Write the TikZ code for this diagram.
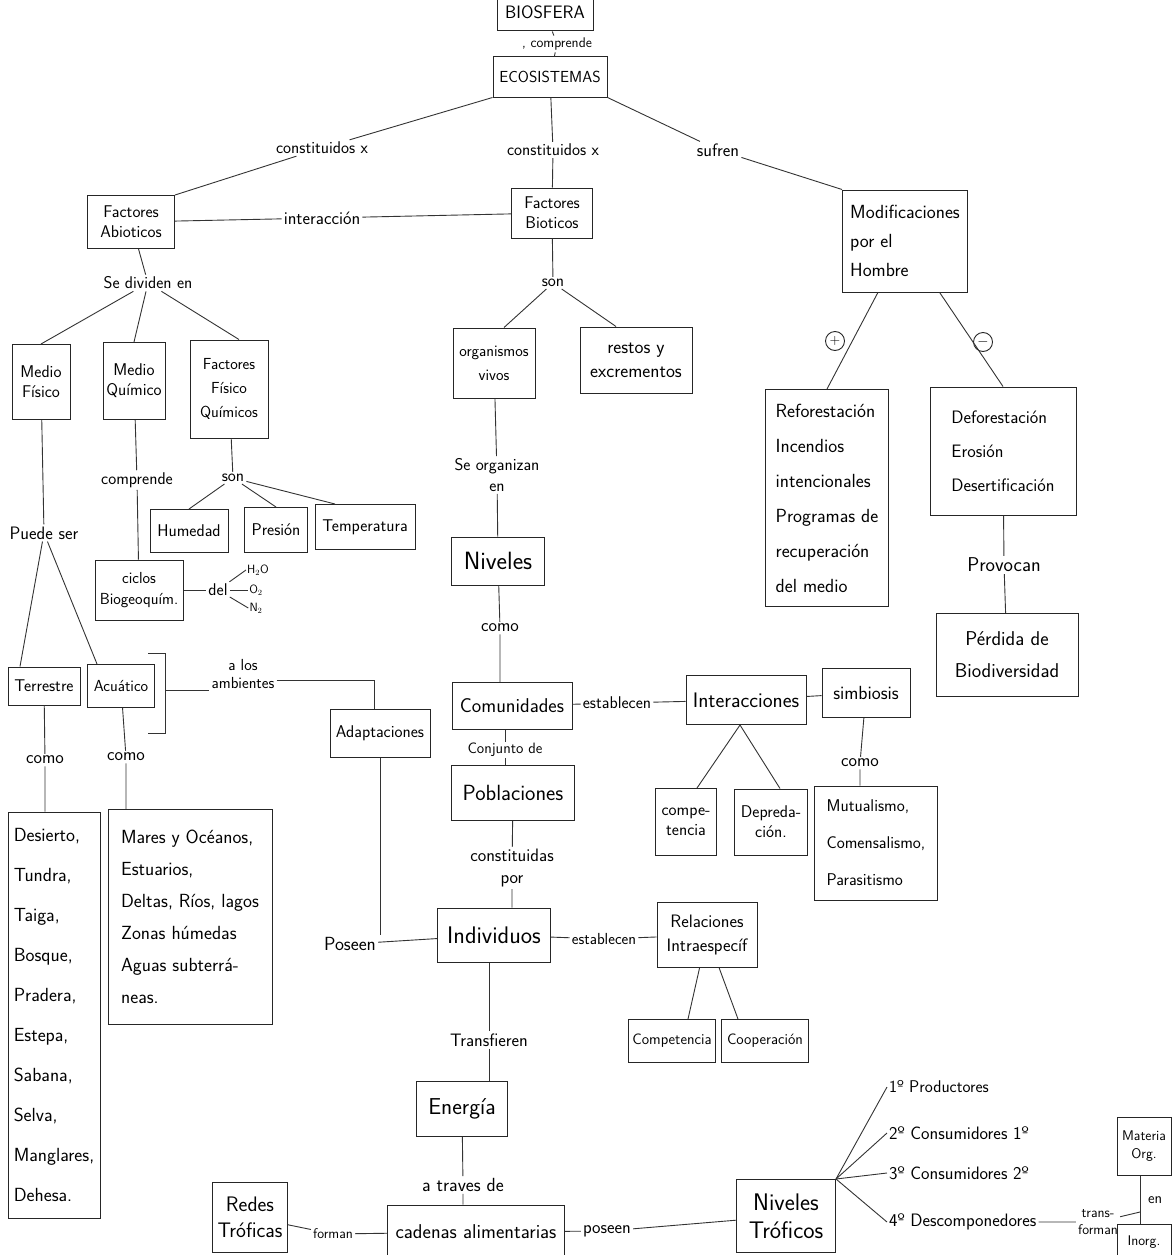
\documentclass[tikz,border=0pt]{standalone}
\usepackage{tikz}
\usetikzlibrary{calc}
\tikzset{
    fs/.style 2 args={font=\sffamily\fontsize{#1}{#2}\selectfont},
    concept/.style={draw=black!85,line width=1pt,inner sep=2pt,align=center,fs={17}{20}},
    bigconcept/.style={concept,fs={23}{27}},
    listbox/.style={concept,align=left},
    linkword/.style={inner sep=2pt,align=center,fs={17}{19}},
    smallword/.style={linkword,inner sep=1pt,fs={12}{13}},
    connect/.style={draw=black!80,line width=0.9pt},
    sign/.style={draw=black!85,circle,line width=0.9pt,inner sep=0pt,minimum size=19pt,fs={14}{14}}
}
\begin{document}
\begin{tikzpicture}[x=1pt,y=-1pt]
\useasboundingbox (0,0) rectangle (1172,1255);

\node[concept,minimum width=96,minimum height=38,fs={18}{20}] (bio) at (545,12) {BIOSFERA};
\node[linkword,fs={14}{16}] (compre) at (557,44) {, comprende};
\node[concept,minimum width=114,minimum height=40,fs={16}{20}] (eco) at (550,77) {ECOSISTEMAS};
\draw[connect] (bio) -- (compre) -- (eco);

\node[concept,minimum width=87,minimum height=53] (abio) at (131,222) {Factores\\Abioticos};
\node[concept,minimum width=81,minimum height=50] (bioti) at (552,213) {Factores\\Bioticos};
\node[concept,minimum width=125,minimum height=102,align=left,fs={19}{29}] (modif) at (905,241) {Modificaciones\\por el\\Hombre};
\node[linkword] (cons1) at (322,148) {constituidos x};
\node[linkword] (cons2) at (553,150) {constituidos x};
\node[linkword,fs={18}{20}] (sufr) at (718,150) {sufren};
\node[linkword,fs={18}{20}] (inter) at (322,218) {interacción};
\draw[connect] (eco.south west) -- (cons1) -- (abio.north east);
\draw[connect] (eco) -- (cons2) -- (bioti);
\draw[connect] (eco.south east) -- (sufr) -- (modif.north west);
\draw[connect] (abio) -- (inter) -- (bioti);

\node[linkword] (divi) at (148,283) {Se dividen en};
\node[concept,minimum width=58,minimum height=75] (mfis) at (41,382) {Medio\\Físico};
\node[concept,minimum width=62,minimum height=77] (mqui) at (134,381) {Medio\\Químico};
\node[concept,minimum width=78,minimum height=98,fs={16}{24}] (ffq) at (229,389) {Factores\\Físico\\Químicos};
\draw[connect] (abio) -- (divi);
\draw[connect] (divi) -- (mfis.north);
\draw[connect] (divi) -- (mqui.north);
\draw[connect] (divi) -- ([xshift=10]ffq.north);

\node[linkword] (son1) at (553,283) {son};
\node[concept,minimum width=82,minimum height=70,fs={16}{24}] (orgv) at (494,363) {organismos\\vivos};
\node[concept,minimum width=112,minimum height=66,fs={19}{24}] (rest) at (636,360) {restos y\\excrementos};
\draw[connect] (bioti) -- (son1);
\draw[connect] (son1) -- ([xshift=10]orgv.north);
\draw[connect] (son1) -- ([xshift=-20]rest.north);

\node[sign] (plus) at (835,341) {+};
\node[sign] (minus) at (983,342) {$-$};
\node[listbox,minimum width=123,minimum height=217,fs={19}{35}] (refo) at (827,498) {Reforestación\\Incendios\\intencionales\\Programas de\\recuperación\\del medio};
\node[listbox,minimum width=146,minimum height=128,fs={18}{34}] (defo) at (1003,451) {Deforestación\\Erosión\\Desertificación};
\node[linkword,fs={20}{22}] (provo) at (1004,565) {Provocan};
\node[concept,minimum width=142,minimum height=83,fs={20}{32}] (perd) at (1007,655) {Pérdida de\\Biodiversidad};
\draw[connect] (modif) -- (refo.north);
\draw[connect] (modif) -- (defo.north);
\draw[connect] (defo) -- (provo) -- (perd);

\node[linkword,fs={18}{20}] (pued) at (44,533) {Puede ser};
\node[linkword] (compr) at (137,480) {comprende};
\node[linkword] (son2) at (233,478) {son};
\node[concept,minimum width=78,minimum height=43] (hum) at (189,531) {Humedad};
\node[concept,minimum width=63,minimum height=45] (pres) at (276,530) {Presión};
\node[concept,minimum width=100,minimum height=45] (temp) at (365,527) {Temperatura};
\node[concept,minimum width=88,minimum height=60,fs={16}{21}] (cicl) at (139,590) {ciclos\\Biogeoquím.};
\node[linkword] (del) at (218,590) {del};
\node[smallword] (h2o) at (258,570) {H$_2$O};
\node[smallword] (o2) at (256,590) {O$_2$};
\node[smallword] (n2) at (256,608) {N$_2$};
\draw[connect] (mfis) -- (pued);
\draw[connect] (mqui) -- (compr) -- (cicl);
\draw[connect] (ffq) -- (son2);
\draw[connect] (son2) -- (hum.north);
\draw[connect] (son2) -- (pres.north);
\draw[connect] (son2) -- ([xshift=-30]temp.north);
\draw[connect] (cicl) -- (del);
\draw[connect] (del) -- (h2o.west);
\draw[connect] (del) -- (o2.west);
\draw[connect] (del) -- (n2.west);

\node[concept,minimum width=72,minimum height=38] (terr) at (44,686) {Terrestre};
\node[concept,minimum width=67,minimum height=43,fs={16}{19}] (acua) at (121,686) {Acuático};
\draw[connect] (pued) -- ([xshift=-24]terr.north);
\draw[connect] (pued) -- ([xshift=-24]acua.north);
\coordinate (brk) at (165,690);
\draw[connect] (148,653) -- (165,653) -- (165,733) -- (148,733);
\node[linkword,fs={16}{18}] (alos) at (243,674) {a los\\ambientes};
\node[concept,minimum width=100,minimum height=48] (adap) at (380,733) {Adaptaciones};
\coordinate (bend) at (374,680);
\draw[connect] (brk) -- (brk -| alos.west);
\draw[connect] (alos.east |- bend) -- (bend) -- (bend |- adap.north);

\node[linkword,fs={18}{20}] (como1) at (45,760) {como};
\node[linkword,fs={18}{20}] (como2) at (126,757) {como};
\node[listbox,minimum width=92,minimum height=406,fs={19}{40}] (desi) at (54,1015) {Desierto,\\Tundra,\\Taiga,\\Bosque,\\Pradera,\\Estepa,\\Sabana,\\Selva,\\Manglares,\\Dehesa.};
\node[listbox,minimum width=164,minimum height=215,fs={19}{32}] (mare) at (190,917) {Mares y Océanos,\\Estuarios,\\Deltas, Ríos, lagos\\Zonas húmedas\\Aguas subterrá-\\neas.};
\draw[connect] (terr) -- (como1) -- (como1 |- desi.north);
\draw[connect] (acua) -- (como2) -- (como2 |- mare.north);

\node[linkword,fs={17}{21}] (orga) at (497,475) {Se organizan\\en};
\node[bigconcept,minimum width=93,minimum height=48,fs={25}{28}] (nive) at (498,561) {Niveles};
\node[linkword,fs={18}{20}] (como3) at (500,628) {como};
\node[concept,minimum width=120,minimum height=47,fs={20}{23}] (comu) at (512,706) {Comunidades};
\draw[connect] (orgv) -- (orga) -- (nive);
\draw[connect] (nive) -- (como3) -- (como3 |- comu.north);

\node[linkword] (est1) at (617,703) {establecen};
\node[concept,minimum width=120,minimum height=49,fs={21}{24}] (inte) at (746,700) {Interacciones};
\node[concept,minimum width=88,minimum height=49,fs={19}{22}] (simb) at (866,693) {simbiosis};
\node[concept,minimum width=61,minimum height=67] (comp) at (686,822) {compe-\\tencia};
\node[concept,minimum width=73,minimum height=66] (depr) at (771,822) {Depreda-\\ción.};
\node[linkword,fs={18}{20}] (como4) at (860,763) {como};
\node[listbox,minimum width=123,minimum height=114,fs={17}{37}] (mutu) at (876,843) {Mutualismo,\\Comensalismo,\\Parasitismo};
\draw[connect] (comu) -- (est1) -- (inte);
\draw[connect] (inte) -- (simb);
\draw[connect] ([xshift=-6]inte.south) -- ([xshift=11]comp.north);
\draw[connect] ([xshift=-6]inte.south) -- ([xshift=9]depr.north);
\draw[connect] (simb) -- (como4) -- (como4 |- mutu.north);

\node[linkword,fs={15}{16},inner sep=1pt] (conj) at (505,750) {Conjunto de};
\node[concept,minimum width=123,minimum height=55,fs={22}{25}] (pobl) at (513,793) {Poblaciones};
\node[linkword,fs={18}{22}] (cons) at (512,868) {constituidas\\por};
\node[bigconcept,minimum width=113,minimum height=54,fs={24}{27}] (indi) at (494,935) {Individuos};
\draw[connect] (comu.south -| conj) -- (conj) -- (pobl.north -| conj);
\draw[connect] (pobl) -- (cons) -- (cons |- indi.north);

\node[linkword,fs={19}{21}] (pose) at (350,944) {Poseen};
\draw[connect] (adap) -- (adap |- pose.north);
\draw[connect] (pose) -- (indi);

\node[linkword,fs={16}{18}] (est2) at (604,939) {establecen};
\node[concept,minimum width=100,minimum height=65,fs={18}{24}] (rela) at (707,935) {Relaciones\\Intraespecíf};
\node[concept,minimum width=87,minimum height=43,fs={15}{18}] (cpet) at (672,1041) {Competencia};
\node[concept,minimum width=87,minimum height=43,fs={15}{18}] (coop) at (765,1041) {Cooperación};
\draw[connect] (indi) -- (est2) -- (rela);
\draw[connect] (rela) -- ([xshift=16]cpet.north);
\draw[connect] (rela) -- ([xshift=-27]coop.north);

\node[linkword,fs={18}{20}] (tran) at (489,1040) {Transfieren};
\node[bigconcept,minimum width=91,minimum height=55] (ener) at (462,1109) {Energía};
\node[linkword,fs={19}{21}] (trav) at (463,1185) {a traves de};
\node[bigconcept,minimum width=177,minimum height=54,fs={20}{23}] (cade) at (476,1232) {cadenas alimentarias};
\node[bigconcept,minimum width=75,minimum height=70,fs={21}{26}] (rede) at (250,1217) {Redes\\Tróficas};
\node[linkword,fs={14}{16}] (form) at (333,1234) {forman};
\node[linkword,fs={18}{20}] (pose2) at (607,1231) {poseen};
\node[bigconcept,minimum width=99,minimum height=73,fs={24}{28}] (ntro) at (786,1216) {Niveles\\Tróficos};
\draw[connect] (indi.south -| tran) -- (tran) -- (tran |- ener.north);
\draw[connect] (ener) -- (trav) -- (trav |- cade.north);
\draw[connect] (rede) -- (form) -- (cade);
\draw[connect] (cade) -- (pose2) -- (ntro);

\node[linkword,anchor=west] (prod) at (887,1087) {1º Productores};
\node[linkword,anchor=west,fs={18}{20}] (con1) at (887,1133) {2º Consumidores 1º};
\node[linkword,anchor=west,fs={18}{20}] (con2) at (887,1173) {3º Consumidores 2º};
\node[linkword,anchor=west,fs={18}{20}] (desc) at (887,1222) {4º Descomponedores};
\draw[connect] (ntro.north east) -- (prod.west);
\draw[connect] (ntro.north east) -- (con1.west);
\draw[connect] (ntro.north east) -- (con2.west);
\draw[connect] (ntro.north east) -- (desc.west);

\node[linkword,fs={14}{17}] (trans) at (1098,1222) {trans-\\forman};
\node[concept,minimum width=54,minimum height=58,fs={14}{18}] (mato) at (1144,1146) {Materia\\Org.};
\node[concept,minimum width=54,minimum height=36,fs={14}{17}] (inor) at (1144,1242) {Inorg.};
\node[linkword,anchor=west,fs={15}{17}] (en) at (1146,1200) {en};
\coordinate (join) at (1140,1212);
\draw[connect] (desc) -- (trans) -- (join);
\draw[connect] (mato.south -| join) -- (inor.north -| join);
\end{tikzpicture}
\end{document}
